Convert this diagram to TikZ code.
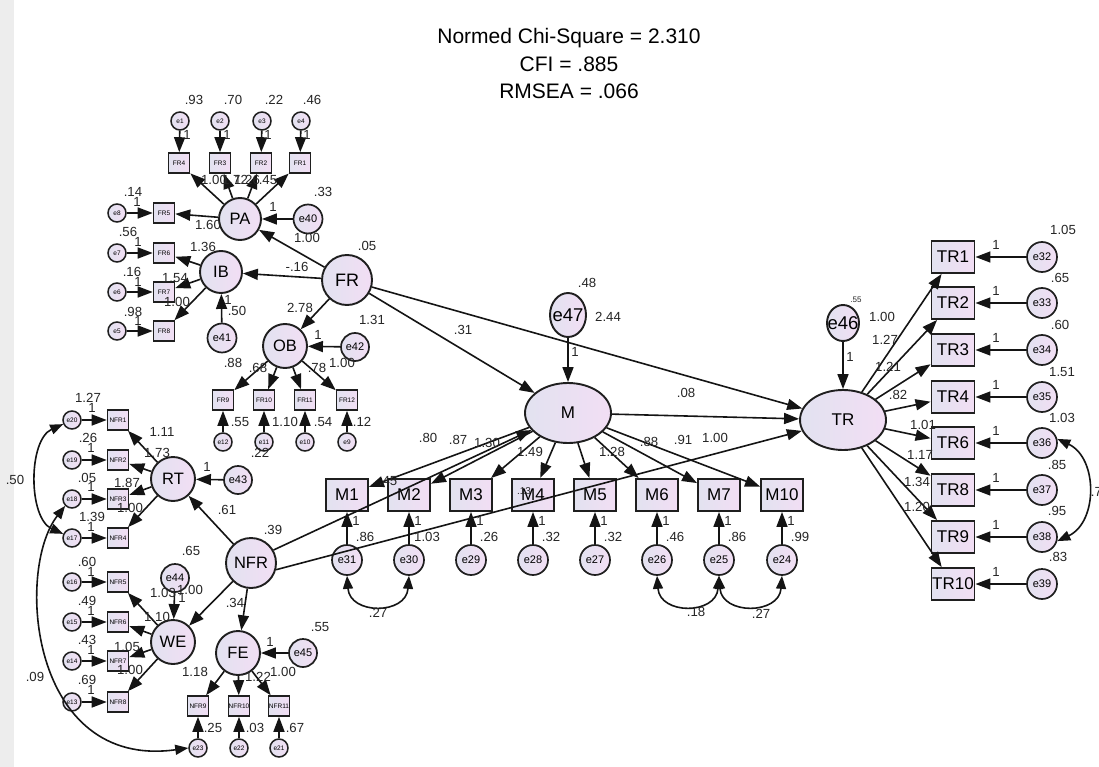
\documentclass[tikz,border=0pt]{standalone}
\usepackage{fontspec}
\setmainfont{Liberation Sans}
\usetikzlibrary{arrows.meta,shapes.geometric}
\definecolor{lavA}{RGB}{226,226,240}
\definecolor{lavB}{RGB}{242,222,244}
\newcounter{lc}
\newcommand\lb[3][]{\stepcounter{lc}\node[lbl,#1] (lb\thelc) at (#2) {#3};}
\begin{document}
\begin{tikzpicture}[x=1pt,y=-1pt,
  shd/.style={left color=lavA,right color=lavB,draw=black!88},
  lat/.style={circle,shd,line width=1.9pt,minimum size=#1,inner sep=0pt,font=\fontsize{16.5}{17}\selectfont},
  errs/.style={circle,shd,line width=1.5pt,minimum size=18pt,inner sep=0pt,font=\fontsize{6.5}{7}\selectfont},
  errm/.style={circle,shd,line width=1.7pt,minimum size=29pt,inner sep=0pt,font=\fontsize{11}{12}\selectfont},
  inds/.style={rectangle,shd,line width=1.6pt,minimum width=21pt,minimum height=20pt,inner sep=0pt,font=\fontsize{6.5}{7}\selectfont},
  indb/.style={rectangle,shd,line width=1.9pt,minimum width=42pt,minimum height=32pt,inner sep=0pt,font=\fontsize{17}{18}\selectfont},
  ell/.style={ellipse,shd,line width=1.9pt,inner sep=0pt},
  conn/.style={line width=1.6pt,draw=black!92,-{Triangle[length=15pt,width=11pt]}},
  cov/.style={line width=1.6pt,draw=black!92,{Triangle[length=13pt,width=10pt]}-{Triangle[length=13pt,width=10pt]}},
  lbl/.style={inner sep=0pt,font=\fontsize{13.2}{14}\selectfont,text=black!85},
  ttl/.style={inner sep=0pt,font=\fontsize{21}{24}\selectfont}]
\useasboundingbox (0,0) rectangle (1099,767);
\fill[white] (0,0) rectangle (1099,767);
\fill[black!7] (0,0) rectangle (14,767);
% title
\node[ttl] (t1) at (569,38) {Normed Chi-Square = 2.310};
\node[ttl] (t2) at (569,64) {CFI = .885};
\node[ttl] (t3) at (569,91) {RMSEA = .066};
% ---- FR block ----
\foreach \n/\x in {e1/180,e2/220,e3/262,e4/301} \node[errs] (\n) at (\x,121) {\n};
\foreach \n/\x in {FR4/179,FR3/220,FR2/261,FR1/300} \node[inds] (\n) at (\x,163) {\n};
\node[lat=42pt] (PA) at (240,219) {PA};
\node[errm] (e40) at (308,219) {e40};
\foreach \n/\e/\y in {FR5/e8/213,FR6/e7/253,FR7/e6/292,FR8/e5/331} {
  \node[inds] (\n) at (164,\y) {\n};
  \node[errs] (\e) at (117,\y) {\e};}
\node[lat=42pt] (IB) at (221,272) {IB};
\node[errm] (e41) at (222,338) {e41};
\node[lat=50pt,font=\fontsize{18}{19}\selectfont] (FR) at (347,280) {FR};
\node[lat=44pt] (OB) at (285,346) {OB};
\node[errm,minimum size=28pt] (e42) at (355,347) {e42};
\foreach \n/\e/\x in {FR9/e12/223,FR10/e11/264,FR11/e10/305,FR12/e9/347} {
  \node[inds] (\n) at (\x,400) {\n};
  \node[errs] (\e) at (\x,442) {\e};}
% ---- NFR block ----
\foreach \n/\e/\y in {NFR1/e20/420,NFR2/e19/460,NFR3/e18/499,NFR4/e17/538,NFR5/e16/582,NFR6/e15/622,NFR7/e14/661,NFR8/e13/702} {
  \node[inds] (\n) at (118,\y) {\n};
  \node[errs] (\e) at (72,\y) {\e};}
\node[lat=44pt] (RT) at (173,479) {RT};
\node[errm,minimum size=28pt] (e43) at (238,480) {e43};
\node[lat=50pt] (NFR) at (251,563) {NFR};
\node[lat=44pt] (WE) at (173,642) {WE};
\node[errm,minimum size=28pt] (e44) at (175,578) {e44};
\node[lat=44pt] (FE) at (238,653) {FE};
\node[errm,minimum size=28pt] (e45) at (303,653) {e45};
\foreach \n/\e/\x in {NFR9/e23/198,NFR10/e22/239,NFR11/e21/279} {
  \node[inds] (\n) at (\x,706) {\makebox[0pt]{\n}};
  \node[errs] (\e) at (\x,748) {\e};}
% ---- M block ----
\node[ell,minimum width=36pt,minimum height=44pt,font=\fontsize{18.5}{19}\selectfont] (e47) at (568,315) {\makebox[0pt]{e47}};
\node[ell,minimum width=86pt,minimum height=60pt,font=\fontsize{17}{18}\selectfont] (M) at (568,413) {M};
\foreach \n/\e/\x in {M1/e31/347,M2/e30/409,M3/e29/471,M4/e28/533,M5/e27/595,M6/e26/657,M7/e25/719,M10/e24/782} {
  \node[indb] (\n) at (\x,495) {\n};
  \node[errm,minimum size=30pt] (\e) at (\x,560) {\e};}
% ---- TR block ----
\node[ell,minimum width=86pt,minimum height=60pt,font=\fontsize{17}{18}\selectfont] (TR) at (843,420) {TR};
\node[ell,minimum width=32pt,minimum height=36pt,font=\fontsize{18.5}{19}\selectfont] (e46) at (843,323) {\makebox[0pt]{e46}};
\foreach \n/\e/\y in {TR1/e32/257,TR2/e33/303,TR3/e34/350,TR4/e35/397,TR6/e36/443,TR8/e37/490,TR9/e38/537,TR10/e39/584} {
  \node[indb,minimum width=43pt] (\n) at (953,\y) {\n};
  \node[errm,minimum size=30pt] (\e) at (1042,\y) {\e};}
% ---- connectors ----
\foreach \a/\b in {e1/FR4,e2/FR3,e3/FR2,e4/FR1,e8/FR5,e7/FR6,e6/FR7,e5/FR8,e12/FR9,e11/FR10,e10/FR11,e9/FR12,
  e20/NFR1,e19/NFR2,e18/NFR3,e17/NFR4,e16/NFR5,e15/NFR6,e14/NFR7,e13/NFR8,e23/NFR9,e22/NFR10,e21/NFR11,
  e31/M1,e30/M2,e29/M3,e28/M4,e27/M5,e26/M6,e25/M7,e24/M10,
  e32/TR1,e33/TR2,e34/TR3,e35/TR4,e36/TR6,e37/TR8,e38/TR9,e39/TR10,
  PA/FR4,PA/FR3,PA/FR2,PA/FR1,PA/FR5,IB/FR6,IB/FR7,IB/FR8,OB/FR9,OB/FR10,OB/FR11,OB/FR12,
  RT/NFR1,RT/NFR2,RT/NFR3,RT/NFR4,WE/NFR5,WE/NFR6,WE/NFR7,WE/NFR8,FE/NFR9,FE/NFR10,FE/NFR11,
  M/M1,M/M2,M/M3,M/M4,M/M5,M/M6,M/M7,M/M10,
  TR/TR1,TR/TR2,TR/TR3,TR/TR4,TR/TR6,TR/TR8,TR/TR9,TR/TR10,
  e40/PA,e41/IB,e42/OB,e43/RT,e44/WE,e45/FE,e47/M,e46/TR,
  FR/PA,FR/IB,FR/OB,FR/M,FR/TR,NFR/RT,NFR/WE,NFR/FE,M/TR}
  \draw[conn] (\a) -- (\b);
\draw[conn] (NFR.30) -- (M);
\draw[conn] (NFR.-15) -- (TR);
% covariances
\draw[cov] (e20.205) .. controls (28,440) and (28,518) .. (e17.155);
\draw[cov] (e18.225) .. controls (15,570) and (30,770) .. (e23.west);
\draw[cov] (e36.15) .. controls (1098,458) and (1098,522) .. (e38.-15);
\draw[cov] (e31.south) .. controls (350,615) and (406,615) .. (e30.south);
\draw[cov] (e26.south) .. controls (660,615) and (716,615) .. (e25.south);
\draw[cov] (e25.south) .. controls (722,615) and (779,615) .. (e24.south);
% ---- labels ----
\lb{194,100}{.93}\lb{233,100}{.70}\lb{274,100}{.22}\lb{312,100}{.46}
\lb{187,135}{1}\lb{227,135}{1}\lb{268,135}{1}\lb{307,135}{1}
\lb{214,180}{1.00}\lb{235,180}{1.72}\lb{247,180}{1.26}\lb{268,180}{.45}
\lb{323,192}{.33}\lb{273,207}{1}\lb{307,238}{1.00}\lb{208,225}{1.60}
\lb{133,192}{.14}\lb{137,202}{1}
\lb{128,232}{.56}\lb{138,242}{1}\lb{203,247}{1.36}
\lb{132,272}{.16}\lb{138,282}{1}\lb{175,278}{1.54}\lb{177,302}{1.00}
\lb{133,312}{.98}\lb{138,321}{1}
\lb{228,300}{1}\lb{237,311}{.50}
\lb{297,267}{-.16}\lb{367,246}{.05}\lb{300,308}{2.78}
\lb{318,335}{1}\lb{372,320}{1.31}\lb{342,363}{1.00}
\lb{233,363}{.88}\lb{258,368}{.68}\lb{317,368}{.78}
\lb{240,422}{.55}\lb{285,422}{1.10}\lb{323,422}{.54}\lb{362,422}{.12}\lb{260,453}{.22}
\lb{88,398}{1.27}\lb{92,408}{1}\lb{162,432}{1.11}\lb{88,438}{.26}\lb{91,448}{1}
\lb{157,453}{1.73}\lb{87,478}{.05}\lb{91,487}{1}\lb{127,483}{1.87}\lb{130,508}{1.00}
\lb{92,517}{1.39}\lb{91,527}{1}\lb{207,467}{1}\lb{227,510}{.61}\lb{273,530}{.39}
\lb{15,480}{.50}\lb{191,551}{.65}
\lb{87,562}{.60}\lb{91,572}{1}\lb{87,601}{.49}\lb{91,611}{1}\lb{87,640}{.43}\lb{91,650}{1}
\lb{87,680}{.69}\lb{91,690}{1}
\lb{163,593}{1.03}\lb{182,598}{1}\lb{190,590}{1.00}\lb{157,617}{1.10}\lb{127,647}{1.05}\lb{130,670}{1.00}
\lb{35,677}{.09}
\lb{320,627}{.55}\lb{270,642}{1}\lb{235,603}{.34}\lb{195,672}{1.18}\lb{258,677}{1.22}\lb{283,672}{1.00}
\lb{213,728}{.25}\lb{255,728}{.03}\lb{295,728}{.67}
\lb{463,330}{.31}\lb{587,283}{.48}\lb{608,317}{2.44}\lb{575,352}{1}\lb{686,393}{.08}
\lb{428,438}{.80}\lb{458,440}{.87}\lb{487,443}{1.30}\lb{530,452}{1.49}\lb{612,452}{1.28}
\lb{649,442}{.88}\lb{683,440}{.91}\lb{715,438}{1.00}\lb{388,481}{.45}
\lb[font=\fontsize{10}{10}\selectfont]{524,491}{.13}
\foreach \x/\v in {347/.86,409/1.03,471/.26,533/.32,595/.32,657/.46,719/.86,782/.99} {
  \lb{\x+9,521}{1}\lb{\x+18,537}{\v}}
\lb{378,613}{.27}\lb{696,612}{.18}\lb{761,614}{.27}
\lb[font=\fontsize{8}{8}\selectfont]{856,300}{.55}\lb{850,357}{1}
\lb{882,317}{1.00}\lb{885,340}{1.27}\lb{888,367}{1.21}\lb{898,395}{.82}
\lb{923,425}{1.01}\lb{920,455}{1.17}\lb{917,482}{1.34}\lb{917,507}{1.20}
\foreach \y in {257,303,350,397,443,490,537,584} {\lb{996,\y-12}{1}}
\lb{1063,230}{1.05}\lb{1060,278}{.65}\lb{1060,325}{.60}\lb{1062,372}{1.51}
\lb{1062,418}{1.03}\lb{1057,465}{.85}\lb{1057,511}{.95}\lb{1058,557}{.83}\lb{1100,492}{.75}
\end{tikzpicture}
\end{document}
